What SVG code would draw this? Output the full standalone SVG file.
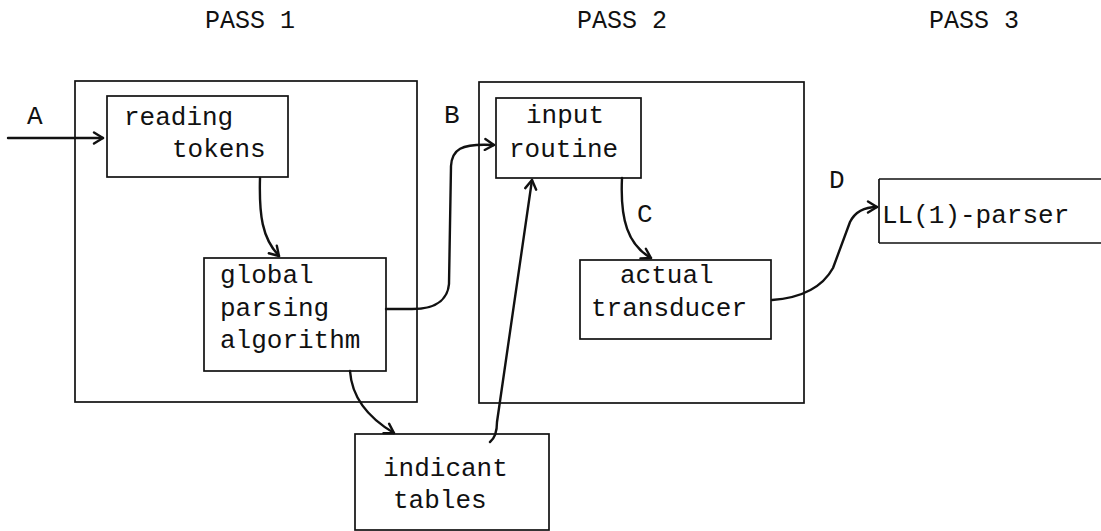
<svg xmlns="http://www.w3.org/2000/svg" width="1101" height="531" viewBox="0 0 1101 531">
<style>
.box{fill:none;stroke:#111;stroke-width:1.7}
.t{font-family:"Liberation Mono","DejaVu Sans Mono",monospace;font-size:26px;fill:#111}
.h{font-family:"Liberation Mono","DejaVu Sans Mono",monospace;font-size:25px;fill:#111}
.c{fill:none;stroke:#111;stroke-width:2.4;stroke-linecap:round;stroke-linejoin:round}
</style>
<defs>
<marker id="ah" viewBox="-11 -7 13 14" refX="0" refY="0" markerWidth="13" markerHeight="14" markerUnits="userSpaceOnUse" orient="auto">
<path d="M-9,-5.5 L0,0 L-9,5.5" fill="none" stroke="#111" stroke-width="2.4" stroke-linejoin="round" stroke-linecap="round"/>
</marker>
</defs>
<g id="headers">
<text class="h" x="205" y="28">PASS 1</text>
<text class="h" x="577" y="28">PASS 2</text>
<text class="h" x="929" y="28">PASS 3</text>
</g>
<g id="pass1">
<rect class="box" x="75" y="81" width="342" height="321"/>
</g>
<g id="pass2">
<rect class="box" x="479" y="82" width="325" height="321"/>
</g>
<g id="reading-tokens">
<rect class="box" x="107" y="96" width="181" height="81"/>
<text class="t" x="124" y="125">reading</text>
<text class="t" x="172" y="157">tokens</text>
</g>
<g id="global-parsing">
<rect class="box" x="204" y="258" width="182" height="113"/>
<text class="t" x="220" y="283">global</text>
<text class="t" x="220" y="316">parsing</text>
<text class="t" x="220" y="348">algorithm</text>
</g>
<g id="input-routine">
<rect class="box" x="496" y="98" width="145" height="80"/>
<text class="t" x="526" y="123">input</text>
<text class="t" x="509" y="157">routine</text>
</g>
<g id="actual-transducer">
<rect class="box" x="580" y="260" width="191" height="79"/>
<text class="t" x="620" y="283">actual</text>
<text class="t" x="591" y="316">transducer</text>
</g>
<g id="ll1-parser">
<path class="box" d="M879,179 L1101,179 M879,179 L879,243 M879,243 L1101,243"/>
<text class="t" x="882" y="223">LL(1)-parser</text>
</g>
<g id="indicant-tables">
<rect class="box" x="355" y="434" width="194" height="96"/>
<text class="t" x="383" y="476">indicant</text>
<text class="t" x="393" y="508">tables</text>
</g>
<g id="labels">
<text class="t" x="27" y="124">A</text>
<text class="t" x="444" y="123">B</text>
<text class="t" x="637" y="222">C</text>
<text class="t" x="829" y="188">D</text>
</g>
<g id="connectors">
<path class="c" marker-end="url(#ah)" d="M8,138 L103,138"/>
<path class="c" marker-end="url(#ah)" d="M260,178 C259,215 262,238 279,256"/>
<path class="c" marker-end="url(#ah)" d="M386,309 L412,309 C440,309 448,296 449,284 L451,166 C452,150 460,143 494,145"/>
<path class="c" marker-end="url(#ah)" d="M350,371 C352,400 372,420 394,433"/>
<path class="c" marker-end="url(#ah)" d="M490,442 C495,438 497,432 497,422 L532,180"/>
<path class="c" marker-end="url(#ah)" d="M622,178 C620,220 628,245 651,258"/>
<path class="c" marker-end="url(#ah)" d="M772,300 C800,298 822,288 833,268 L850,222 C856,210 866,207 877,207"/>
</g>
</svg>
